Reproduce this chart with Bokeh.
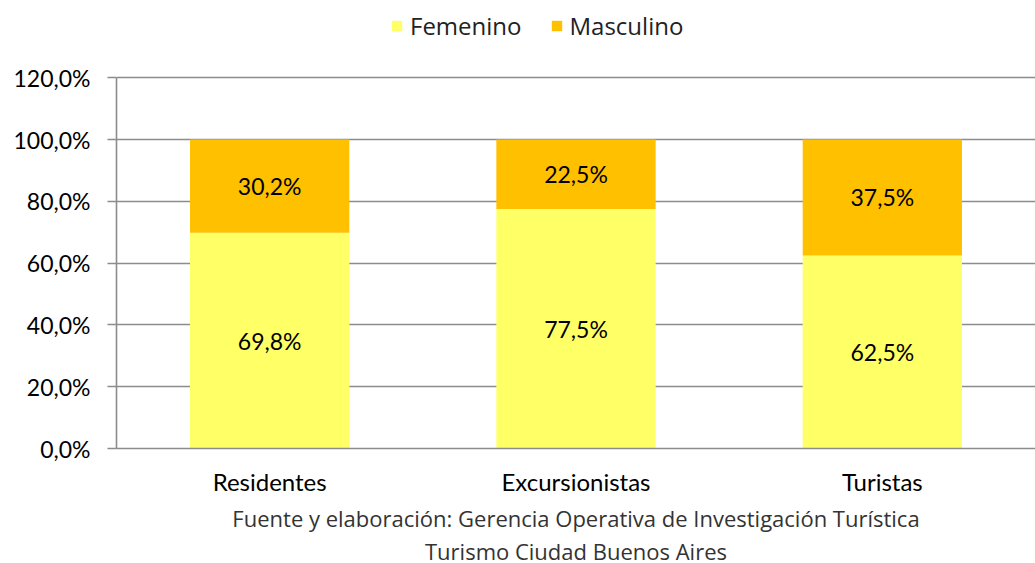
from bokeh.plotting import figure
from bokeh.models import ColumnDataSource, FactorRange, Range1d, CustomJSTickFormatter, FixedTicker, Legend, LegendItem, Title, LabelSet
from bokeh.core.properties import value
from bokeh.embed import file_html
from bokeh.resources import INLINE

categories = ["Residentes", "Excursionistas", "Turistas"]
femenino = [69.8, 77.5, 62.5]
masculino = [30.2, 22.5, 37.5]
y_ticks = [0, 20, 40, 60, 80, 100, 120]
series_names = ["Femenino", "Masculino"]
colors = ["#FFFF66", "#FFC000"]
source_lines = ["Fuente y elaboración: Gerencia Operativa de Investigación Turística",
                "Turismo Ciudad Buenos Aires"]

fem_lbl = [f"{v:.1f}%".replace(".", ",") for v in femenino]
mas_lbl = [f"{v:.1f}%".replace(".", ",") for v in masculino]
fem_mid = [v / 2 for v in femenino]
mas_mid = [f + m / 2 for f, m in zip(femenino, masculino)]

src = ColumnDataSource(dict(cat=categories, Femenino=femenino, Masculino=masculino,
                            fem_lbl=fem_lbl, mas_lbl=mas_lbl, fem_mid=fem_mid, mas_mid=mas_mid))

p = figure(x_range=FactorRange(*categories, range_padding=0), y_range=Range1d(0, 145),
           width=1035, height=563, output_backend="svg", toolbar_location=None,
           min_border_left=116, min_border_right=0, min_border_top=0, min_border_bottom=0)

r = p.vbar_stack(series_names, x="cat", width=0.52, source=src, color=colors, line_color=None)

lbl_font = "Lato"
for field, mid in (("fem_lbl", "fem_mid"), ("mas_lbl", "mas_mid")):
    p.add_layout(LabelSet(x="cat", y=mid, text=field, source=src, text_align="center",
                          text_baseline="middle", text_font=value(lbl_font), text_font_size="23px",
                          text_color="#000000"))

p.outline_line_color = None
p.background_fill_color = "white"
p.border_fill_color = "white"

p.xgrid.grid_line_color = None
p.ygrid.grid_line_color = "#8c8c8c"
p.ygrid.grid_line_width = 1.6
p.ygrid.ticker = FixedTicker(ticks=y_ticks)
p.ygrid.level = "underlay"

p.yaxis.ticker = FixedTicker(ticks=y_ticks)
p.yaxis.bounds = (0, 120)
p.yaxis.formatter = CustomJSTickFormatter(code="return tick.toFixed(1).replace('.', ',') + '%';")
p.yaxis.axis_line_color = "#8c8c8c"
p.yaxis.axis_line_width = 1.6
p.yaxis.major_tick_line_color = "#8c8c8c"
p.yaxis.major_tick_line_width = 1.6
p.yaxis.major_tick_out = 9
p.yaxis.major_tick_in = 0
p.yaxis.minor_tick_line_color = None
p.yaxis.major_label_text_font = lbl_font
p.yaxis.major_label_text_font_size = "23px"
p.yaxis.major_label_text_color = "#000000"
p.yaxis.major_label_standoff = 17

p.xaxis.axis_line_color = "#8c8c8c"
p.xaxis.axis_line_width = 1.6
p.xaxis.major_tick_line_color = None
p.xaxis.minor_tick_line_color = None
p.xaxis.major_label_text_font = lbl_font
p.xaxis.major_label_text_font_size = "24px"
p.xaxis.major_label_text_color = "#000000"
p.xaxis.major_label_standoff = 12

legend = Legend(items=[LegendItem(label=n, renderers=[rr]) for n, rr in zip(series_names, r)],
                orientation="horizontal", location=(274, 406), label_text_font="Open Sans",
                label_text_font_size="24px", label_text_color="#222222",
                glyph_width=13, glyph_height=13, spacing=28, label_standoff=7,
                border_line_color=None, background_fill_alpha=0, padding=2, margin=0)
p.add_layout(legend)

p.add_layout(Title(text=source_lines[0], align="center", text_font="Open Sans",
                   text_font_size="22px", text_font_style="normal", text_color="#333333",
                   standoff=5), "below")
p.add_layout(Title(text=source_lines[1], align="center", text_font="Open Sans",
                   text_font_size="22px", text_font_style="normal", text_color="#333333",
                   standoff=-4), "below")

open("out.html", "w").write(file_html(p, INLINE))
